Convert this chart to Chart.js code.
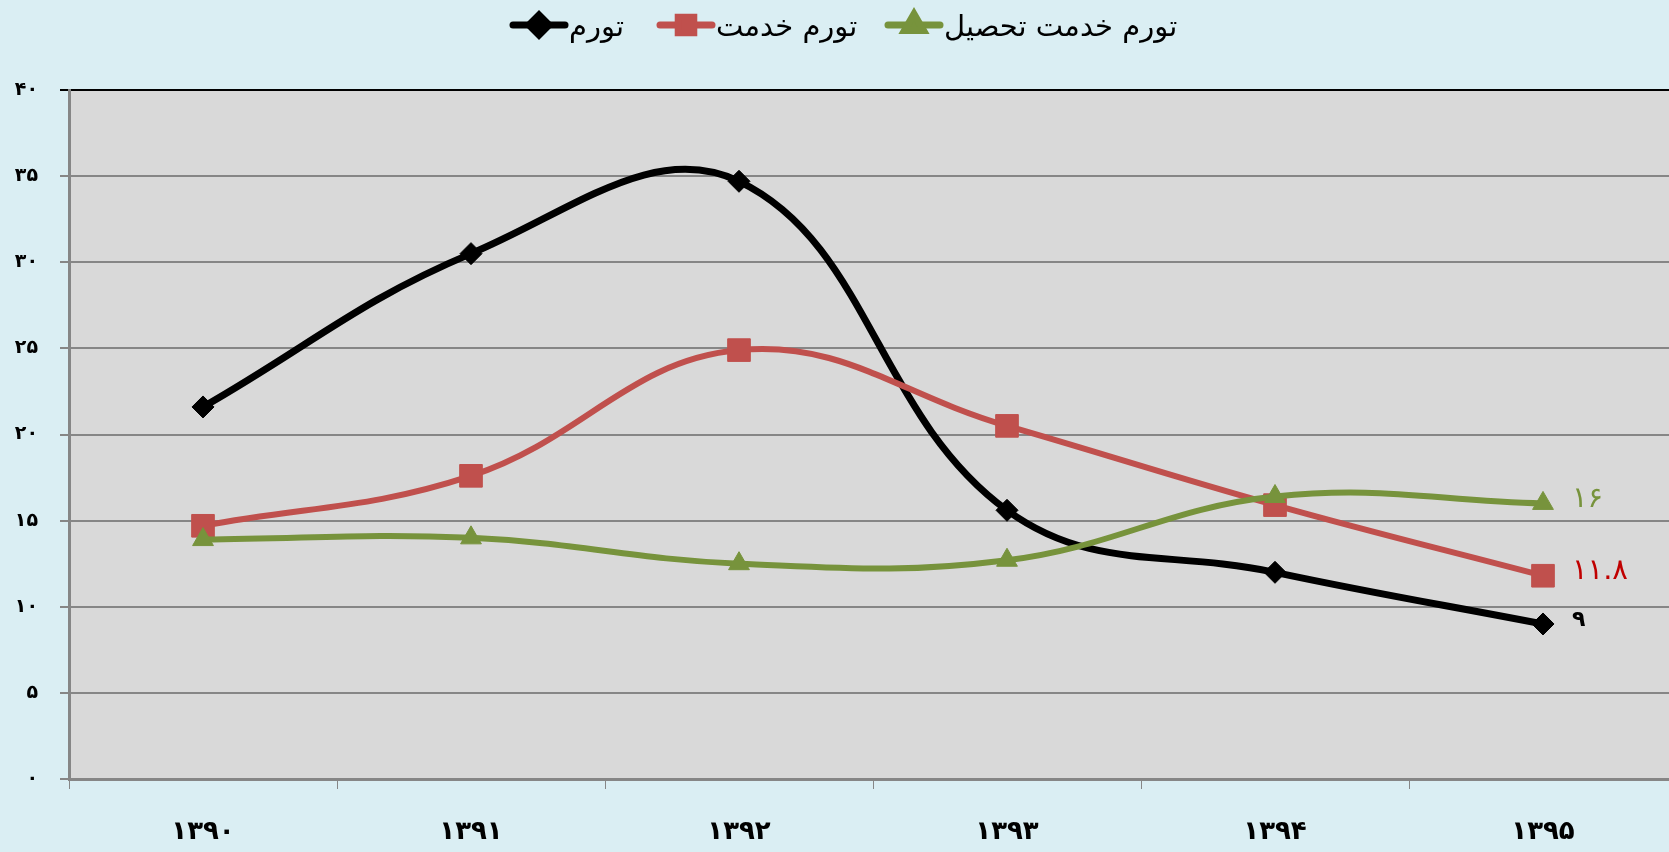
<!DOCTYPE html>
<html>
<head>
<meta charset="utf-8">
<script src="https://cdn.jsdelivr.net/npm/chart.js@4"></script>
<style>
  html, body { margin: 0; padding: 0; overflow: hidden; background: #DAEEF3; }
  #wrap { width: 1669px; height: 852px; }
</style>
</head>
<body>
<div id="wrap"><canvas id="c" width="1669" height="852"></canvas></div>
<script>
// ---- data ----
const categories = ['۱۳۹۰', '۱۳۹۱', '۱۳۹۲', '۱۳۹۳', '۱۳۹۴', '۱۳۹۵'];
const seriesNames = ['تورم', 'تورم خدمت', 'تورم خدمت تحصیل'];
const inflation = [21.6, 30.5, 34.7, 15.6, 12.0, 9.0];
const serviceInflation = [14.7, 17.6, 24.9, 20.5, 15.9, 11.8];
const educationInflation = [13.9, 14.0, 12.5, 12.7, 16.4, 16.0];
const endLabels = ['۹', '۱۱.۸', '۱۶'];
const yMin = 0, yMax = 40, yStep = 5;

// ---- styles ----
const colors = ['#000000', '#C0504D', '#77933C'];
const labelColors = ['#000000', '#C00000', '#77933C'];
const pointStyles = ['rectRot', 'rect', 'triangle'];
const pointRadii = [11, 16, 12];
const FONT = "'DejaVu Sans', 'Noto Sans', sans-serif";
const legendStarts = [510, 657, 885];
const PLOT_RIGHT = 1677; // plot area runs past the visible right edge

function toFa(n) {
  return String(n).replace(/[0-9]/g, d => '۰۱۲۳۴۵۶۷۸۹'[d]);
}

// extend the plot area past the canvas edge (the reference is cropped there)
const extendArea = {
  id: 'extendArea',
  afterLayout(chart) {
    const a = chart.chartArea;
    chart.chartArea = { left: a.left, top: a.top, right: PLOT_RIGHT, bottom: a.bottom,
                        width: PLOT_RIGHT - a.left, height: a.height };
    const x = chart.scales.x;
    x.right = PLOT_RIGHT;
    x.width = PLOT_RIGHT - x.left;
    x.configure();
  }
};

const plotBg = {
  id: 'plotBg',
  beforeDraw(chart) {
    const { ctx, chartArea: a } = chart;
    ctx.save();
    ctx.fillStyle = '#D9D9D9';
    ctx.fillRect(a.left, a.top, a.right - a.left, a.bottom - a.top);
    ctx.restore();
  }
};

const endLabelPlugin = {
  id: 'endLabels',
  afterDatasetsDraw(chart) {
    const ctx = chart.ctx;
    ctx.save();
    chart.data.datasets.forEach((ds, i) => {
      const meta = chart.getDatasetMeta(i);
      const pt = meta.data[meta.data.length - 1];
      ctx.font = (i === 0 ? 'bold 22px ' : '29px ') + FONT;
      ctx.fillStyle = labelColors[i];
      ctx.textAlign = 'left';
      ctx.textBaseline = 'middle';
      ctx.fillText(endLabels[i], pt.x + 29, pt.y - 4);
    });
    ctx.restore();
  }
};

const legendPlugin = {
  id: 'customLegend',
  afterDraw(chart) {
    const ctx = chart.ctx;
    ctx.save();
    ctx.font = '29px ' + FONT;
    ctx.textBaseline = 'middle';
    ctx.textAlign = 'left';
    const y = 25;
    const radii = [10, 11, 11];
    seriesNames.forEach((name, i) => {
      const x = legendStarts[i];
      ctx.strokeStyle = colors[i];
      ctx.fillStyle = colors[i];
      ctx.lineWidth = 7;
      ctx.lineCap = 'round';
      ctx.beginPath();
      ctx.moveTo(x + 3, y);
      ctx.lineTo(x + 55, y);
      ctx.stroke();
      Chart.helpers.drawPoint(ctx, { pointStyle: pointStyles[i], radius: radii[i], rotation: 0, borderWidth: 1 }, x + 29, y);
      ctx.fillStyle = '#000';
      ctx.fillText(name, x + 59, y + 3);
    });
    ctx.restore();
  }
};

const datasetsData = [inflation, serviceInflation, educationInflation];
const datasets = datasetsData.map((d, i) => ({
  label: seriesNames[i],
  data: d,
  borderColor: colors[i],
  backgroundColor: colors[i],
  borderWidth: i === 0 ? 7 : 6,
  pointStyle: pointStyles[i],
  pointRadius: pointRadii[i],
  pointBorderWidth: 1,
  pointBackgroundColor: colors[i],
  pointBorderColor: colors[i],
  tension: 0.4,
  fill: false,
  order: 3 - i
}));

new Chart(document.getElementById('c'), {
  type: 'line',
  data: { labels: categories, datasets },
  options: {
    responsive: false,
    animation: false,
    devicePixelRatio: 1,
    layout: { padding: { top: 90, left: 0, bottom: 0, right: 0 } },
    plugins: { legend: { display: false }, tooltip: { enabled: false } },
    scales: {
      x: {
        type: 'category',
        offset: true,
        grid: { offset: true, drawOnChartArea: false, drawTicks: true, tickLength: 10, color: '#868686', lineWidth: 1 },
        border: { color: '#868686', width: 3 },
        ticks: { color: '#000', font: { family: FONT, size: 26, weight: 'bold' }, padding: 28, maxRotation: 0 },
        afterFit(s) { s.height = 73; s.paddingLeft = 0; s.paddingRight = 0; }
      },
      y: {
        min: yMin, max: yMax,
        grid: {
          color: ctx => ctx.tick && ctx.tick.value === yMax ? '#000000' : '#868686',
          lineWidth: 2,
          tickLength: 9,
          drawTicks: true
        },
        border: { color: '#868686', width: 3 },
        ticks: {
          stepSize: yStep,
          color: '#000',
          font: { family: FONT, size: 19, weight: 'bold' },
          padding: 22,
          callback: v => toFa(v)
        },
        afterFit(s) { s.width = 69; }
      }
    }
  },
  plugins: [extendArea, plotBg, endLabelPlugin, legendPlugin]
});
</script>
</body>
</html>
